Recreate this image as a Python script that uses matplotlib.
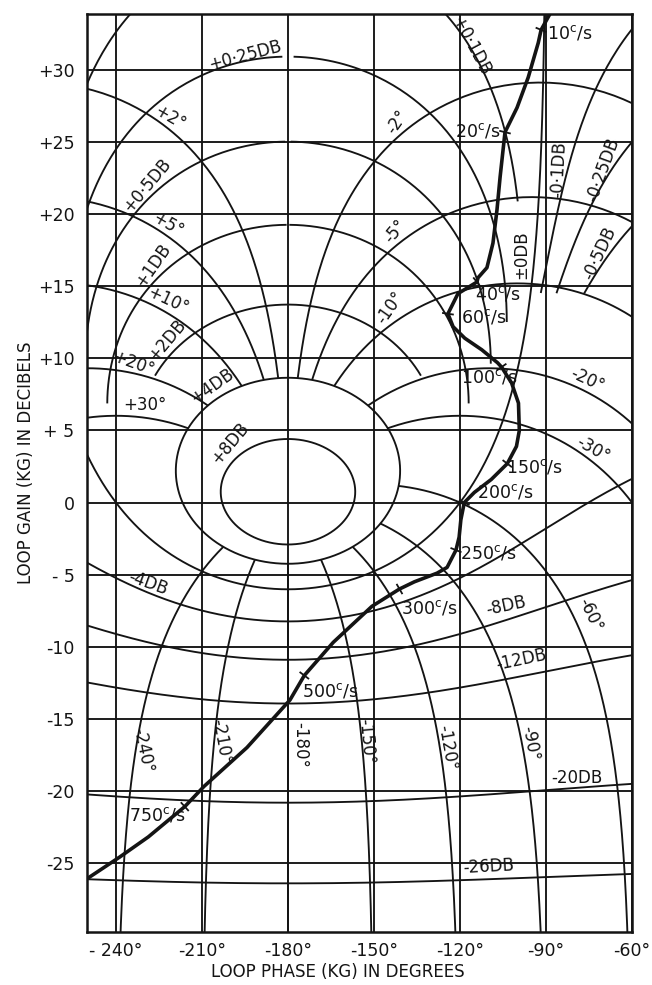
import numpy as np
import matplotlib
matplotlib.use('Agg')
import matplotlib.pyplot as plt

plt.rcParams['font.family'] = ['DejaVu Sans']

# closed-loop magnitude contours (dB) and phase contours (degrees)
m_levels = [8, 4, 2, 1, 0.5, 0.25, 0.1, 0, -0.1, -0.25, -0.5, -4, -8, -12, -20, -26]
phase_levels = [2, 5, 10, 20, 30, -2, -5, -10, -20, -30, -60, -90, -120, -150, -180, -210, -240]

# loop response
locus_phase = [-88.0, -88.5, -91.7, -92.7, -96.2, -100.1, -104.3, -106.0, -107.1, -108.5,
               -110.6, -113.7, -114.1, -120.7, -124.2, -122.4, -118.3, -112.4, -106.9, -105.5,
               -102.0, -99.6, -99.3, -100.3, -103.5, -109.1, -115.0, -118.5, -119.7, -120.3,
               -121.4, -124.5, -128.0, -135.9, -141.1, -150.7, -164.2, -174.3, -179.3, -194.3,
               -209.3, -216.0, -228.7, -238.7, -249.3, -251.0]
locus_gain = [34.5, 33.95, 32.8, 31.9, 29.5, 27.4, 25.7, 22.6, 20.3, 18.0,
              16.3, 15.6, 15.3, 14.5, 13.1, 12.2, 11.4, 10.6, 9.7, 9.4,
              8.3, 6.9, 5.0, 3.9, 2.7, 1.6, 0.7, 0.0, -1.2, -2.4,
              -3.3, -4.5, -4.9, -5.5, -6.0, -7.2, -9.7, -12.0, -13.7, -17.0,
              -19.7, -21.1, -23.2, -24.6, -26.0, -26.2]

freqs = [10, 20, 40, 60, 100, 150, 200, 250, 300, 500, 750]
freq_phase = [-91.7, -104.3, -114.1, -124.2, -105.5, -103.5, -118.5, -121.4, -141.1, -174.3, -216.0]
freq_gain = [32.8, 25.7, 15.3, 13.1, 9.4, 2.7, 0.0, -3.3, -6.0, -12.0, -21.1]

x_ticks = [-240, -210, -180, -150, -120, -90, -60]
x_tick_labels = ['- 240°', '-210°', '-180°', '-150°', '-120°', '-90°', '-60°']
y_ticks = [30, 25, 20, 15, 10, 5, 0, -5, -10, -15, -20, -25]
y_tick_labels = ['+30', '+25', '+20', '+15', '+10', '+ 5', '0', '- 5', '-10', '-15', '-20', '-25']

INK = '#141414'
LW = 1.35

# lowest gain (dB) at which some of the finer contours are still printed
m_cut = {2: 8.8, 1: 6.2, 0.1: 20.8, -0.1: 14.5, -0.25: 14.5, -0.5: 14.5}


def to_nichols(G):
    ph = np.degrees(np.unwrap(np.angle(G)))
    db = 20 * np.log10(np.abs(G))
    return ph, db


def draw_curve(ax, ph, db):
    for k in (-720, -360, 0, 360):
        ax.plot(ph + k, db, color=INK, lw=LW, solid_capstyle='butt')


fig = plt.figure(figsize=(6.52, 9.85), dpi=100)
ax = fig.add_axes([87 / 652, 53 / 985, 545 / 652, 918 / 985])
ax.set_xlim(-250.1, -60)
ax.set_ylim(-29.8, 33.9)

# grid
for x in x_ticks:
    ax.axvline(x, color=INK, lw=LW)
for y in y_ticks:
    ax.axhline(y, color=INK, lw=LW)

# M contours
for m_db in m_levels:
    M = 10 ** (m_db / 20)
    a = np.linspace(1e-3, 2 * np.pi - 1e-3, 6000)
    T = M * np.exp(1j * a)
    G = T / (1 - T)
    ph, db = to_nichols(G)
    if 0 < m_db < 4:
        # only the upper half of the finer closed loops is printed
        db = np.where(np.abs(G) >= M / np.sqrt(M ** 2 - 1), db, np.nan)
    if m_db in m_cut:
        db = np.where(db > m_cut[m_db], db, np.nan)
    draw_curve(ax, ph, db)

# phase contours, stopped at the +4 dB loop
m_stop = 10 ** (4 / 20)
for deg in phase_levels:
    Ms = np.logspace(-3, np.log10(m_stop), 3000)
    T = Ms * np.exp(1j * np.radians(deg))
    G = T / (1 - T)
    ph, db = to_nichols(G)
    draw_curve(ax, ph, db)

# contour labels: text, phase, gain, rotation
m_text = [('+0·25DB', -195, 31.0, 15), ('+0·5DB', -229.3, 22.0, 50),
          ('+1DB', -227, 16.5, 55), ('+2DB', -222, 11.3, 50),
          ('+4DB', -206.3, 8.1, 35), ('+8DB', -200.3, 4.1, 50),
          ('+0·1DB', -116.2, 31.7, -62), ('±0DB', -98.5, 17.2, 90),
          ('-0·1DB', -85.6, 23.1, 87), ('-0·25DB', -70, 23.1, 70),
          ('-0·5DB', -71.4, 17.3, 65), ('-4DB', -228.7, -5.6, -20),
          ('-8DB', -104, -7.2, 12), ('-12DB', -98.7, -10.9, 12),
          ('-20DB', -79.3, -19.1, 0), ('-26DB', -110.2, -25.3, 3)]
p_text = [('+2°', -221.3, 26.7, -30), ('+5°', -222, 19.25, -30),
          ('+10°', -222, 14.0, -25), ('+20°', -234, 9.6, -20),
          ('+30°', -230, 6.8, 0), ('-2°', -142, 26.4, 55),
          ('-5°', -142.7, 18.8, 50), ('-10°', -144.4, 13.5, 55),
          ('-20°', -75.6, 8.5, -25), ('-30°', -73.7, 3.7, -30),
          ('-60°', -74.4, -7.8, -65), ('-90°', -95.6, -16.7, -80),
          ('-120°', -124.5, -17.0, -80), ('-150°', -152.7, -16.6, -85),
          ('-180°', -175.6, -16.8, -90), ('-210°', -203.2, -16.6, -80),
          ('-240°', -230.7, -17.2, -78)]
for txt, x, y, rot in m_text + p_text:
    ax.text(x, y, txt, rotation=rot, ha='center', va='center', fontsize=12,
            color=INK, rotation_mode='anchor')

# loop locus
ax.plot(locus_phase, locus_gain, color=INK, lw=2.6, solid_capstyle='butt')

# frequency ticks across the locus
fig.canvas.draw()
pts = ax.transData.transform(np.column_stack([locus_phase, locus_gain]))
inv = ax.transData.inverted()
for ph, g in zip(freq_phase, freq_gain):
    p = ax.transData.transform((ph, g))
    i = int(np.argmin(np.hypot(*(pts - p).T)))
    d = pts[min(i + 1, len(pts) - 1)] - pts[max(i - 1, 0)]
    n = np.array([-d[1], d[0]]) / np.hypot(*d)
    seg = inv.transform([p - 5 * n, p + 5 * n])
    ax.plot(seg[:, 0], seg[:, 1], color=INK, lw=1.3)

# frequency labels: phase, gain, alignment
f_pos = [(-89.6, 32.6, 'left'), (-105.8, 25.8, 'right'), (-114.9, 14.5, 'left'),
         (-119.7, 12.9, 'left'), (-119.7, 8.7, 'left'), (-103.8, 2.5, 'left'),
         (-114.1, 0.7, 'left'), (-120.0, -3.5, 'left'), (-140.7, -7.3, 'left'),
         (-175.1, -13.1, 'left'), (-235.3, -21.7, 'left')]
for f, (x, y, ha) in zip(freqs, f_pos):
    ax.text(x, y, f'{f}' + r'$^{\rm c}$/s', ha=ha, va='center', fontsize=12.5, color=INK)

ax.set_xticks(x_ticks)
ax.set_xticklabels(x_tick_labels)
ax.set_yticks(y_ticks)
ax.set_yticklabels(y_tick_labels)
ax.tick_params(length=0, labelsize=12.5, colors=INK)
ax.tick_params(axis='x', pad=7)
ax.tick_params(axis='y', pad=9)
for s in ax.spines.values():
    s.set_linewidth(1.8)
    s.set_color(INK)

fig.text(338 / 652, 1 - 972 / 985, 'LOOP PHASE (KG) IN DEGREES', ha='center', va='center',
         fontsize=12, color=INK)
fig.text(26 / 652, 1 - 463 / 985, 'LOOP GAIN (KG) IN DECIBELS', ha='center', va='center',
         rotation=90, fontsize=12, color=INK)

fig.savefig('out.png', dpi=100, facecolor='white')
